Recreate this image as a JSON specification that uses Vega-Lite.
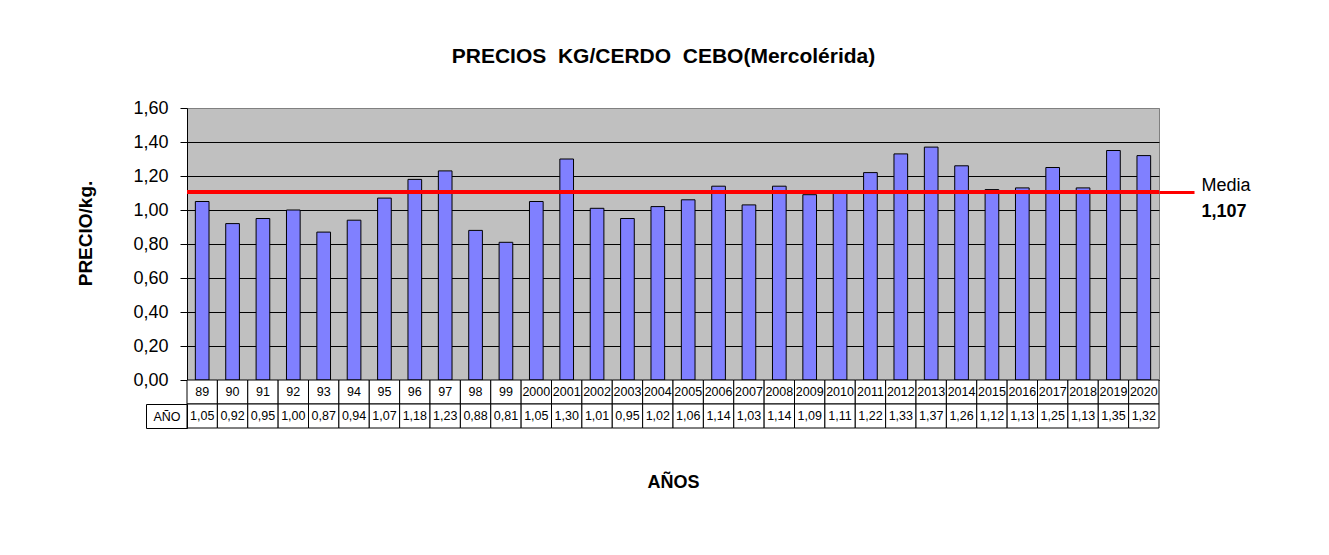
{
  "$schema": "https://vega.github.io/schema/vega-lite/v6.json",
  "background": "white",
  "padding": {"left": 76, "top": 45, "right": 10, "bottom": 10},
  "config": {
    "font": "Liberation Sans",
    "locale": {"number": {"decimal": ",", "thousands": ".", "grouping": [3], "currency": ["", " €"]}}
  },
  "title": {"text": "PRECIOS\u00a0 KG/CERDO\u00a0 CEBO(Mercolérida)", "fontSize": 21, "fontWeight": "bold", "color": "black", "offset": 32, "anchor": "middle"},
  "data": {"values": [
    {"anio": "89", "precio": 1.05},
    {"anio": "90", "precio": 0.92},
    {"anio": "91", "precio": 0.95},
    {"anio": "92", "precio": 1.00},
    {"anio": "93", "precio": 0.87},
    {"anio": "94", "precio": 0.94},
    {"anio": "95", "precio": 1.07},
    {"anio": "96", "precio": 1.18},
    {"anio": "97", "precio": 1.23},
    {"anio": "98", "precio": 0.88},
    {"anio": "99", "precio": 0.81},
    {"anio": "2000", "precio": 1.05},
    {"anio": "2001", "precio": 1.30},
    {"anio": "2002", "precio": 1.01},
    {"anio": "2003", "precio": 0.95},
    {"anio": "2004", "precio": 1.02},
    {"anio": "2005", "precio": 1.06},
    {"anio": "2006", "precio": 1.14},
    {"anio": "2007", "precio": 1.03},
    {"anio": "2008", "precio": 1.14},
    {"anio": "2009", "precio": 1.09},
    {"anio": "2010", "precio": 1.11},
    {"anio": "2011", "precio": 1.22},
    {"anio": "2012", "precio": 1.33},
    {"anio": "2013", "precio": 1.37},
    {"anio": "2014", "precio": 1.26},
    {"anio": "2015", "precio": 1.12},
    {"anio": "2016", "precio": 1.13},
    {"anio": "2017", "precio": 1.25},
    {"anio": "2018", "precio": 1.13},
    {"anio": "2019", "precio": 1.35},
    {"anio": "2020", "precio": 1.32}
  ]},
  "spacing": 0,
  "bounds": "flush",
  "vconcat": [
    {
      "width": 972,
      "height": 272,
      "view": {"fill": "#C0C0C0", "stroke": "#808080"},
      "layer": [
        {
          "mark": {"type": "bar", "fill": "#8080FF", "stroke": "black", "strokeWidth": 1},
          "encoding": {
            "x": {"field": "anio", "type": "ordinal", "sort": null,
              "scale": {"paddingInner": 0.55, "paddingOuter": 0.275},
              "axis": null},
            "y": {"field": "precio", "type": "quantitative",
              "scale": {"domain": [0, 1.6], "nice": false, "zero": true},
              "axis": {"title": "PRECIO/kg.", "titleFontSize": 19, "titleFontWeight": "bold", "titleColor": "black", "titlePadding": 37, "titleY": 125,
                "values": [0, 0.2, 0.4, 0.6, 0.8, 1.0, 1.2, 1.4, 1.6], "format": ".2f",
                "labelFontSize": 18, "labelColor": "black", "labelPadding": 12,
                "tickSize": 7, "tickColor": "black", "domainColor": "black",
                "grid": true, "gridColor": {"condition": {"test": "datum.value >= 1.59", "value": "#808080"}, "value": "black"}, "gridOpacity": 1}}
          }
        },
        {
          "mark": {"type": "rule", "color": "red", "strokeWidth": 3},
          "encoding": {
            "y": {"datum": 1.107, "type": "quantitative",
              "scale": {"domain": [0, 1.6], "nice": false},
              "axis": {"orient": "right", "values": [1.107], "labelExpr": "'Media'", "title": null, "domain": false, "grid": false,
                "ticks": true, "tickColor": "red", "tickWidth": 3, "tickSize": 35,
                "labelFontSize": 18, "labelColor": "black", "labelPadding": 7, "labelAlign": "left", "labelBaseline": "middle", "labelOffset": -6}}
          }
        },
        {
          "mark": {"type": "rule", "color": "red", "strokeOpacity": 0},
          "encoding": {
            "y": {"datum": 1.107, "type": "quantitative",
              "scale": {"domain": [0, 1.6], "nice": false},
              "axis": {"orient": "right", "values": [1.107], "format": ".3f", "title": null, "domain": false, "grid": false,
                "ticks": false, "labelFontSize": 18, "labelFontWeight": "bold", "labelColor": "black", "labelPadding": 42,
                "labelAlign": "left", "labelBaseline": "middle", "labelOffset": 20}}
          }
        }
      ],
      "resolve": {"axis": {"y": "independent"}}
    },
    {
      "width": 972,
      "height": 24,
      "view": {"stroke": null},
      "layer": [
        {
          "mark": {"type": "rect", "fill": "white", "stroke": "black", "strokeWidth": 1},
          "encoding": {
            "x": {"field": "anio", "type": "ordinal", "sort": null,
              "scale": {"paddingInner": 0, "paddingOuter": 0}, "axis": null},
            "y": {"datum": "fila", "type": "nominal",
              "scale": {"paddingInner": 0, "paddingOuter": 0}, "axis": null}
          }
        },
        {
          "mark": {"type": "text", "fontSize": 12.5, "color": "black"},
          "encoding": {
            "x": {"field": "anio", "type": "ordinal", "sort": null,
              "scale": {"paddingInner": 0, "paddingOuter": 0}, "axis": null},
            "y": {"datum": "fila", "type": "nominal",
              "scale": {"paddingInner": 0, "paddingOuter": 0}, "axis": null},
            "text": {"field": "anio", "type": "nominal"}
          }
        }
      ]
    },
    {
      "width": 972,
      "height": 24,
      "view": {"stroke": null},
      "layer": [
        {
          "mark": {"type": "rect", "fill": "white", "stroke": "black", "strokeWidth": 1},
          "encoding": {
            "x": {"field": "anio", "type": "ordinal", "sort": null,
              "scale": {"paddingInner": 0, "paddingOuter": 0},
              "axis": {"title": "AÑOS", "labels": false, "ticks": false, "domain": false,
                "titleFontSize": 18, "titleFontWeight": "bold", "titleColor": "black", "titlePadding": 45}},
            "y": {"datum": "AÑO", "type": "nominal",
              "scale": {"paddingInner": 0, "paddingOuter": 0},
              "axis": {"title": null, "tickBand": "extent", "tickSize": 41, "tickColor": "black", "domainColor": "black",
                "labelFontSize": 12.5, "labelColor": "black", "labelAlign": "center", "labelPadding": -20.5, "labelBaseline": "middle"}}
          }
        },
        {
          "mark": {"type": "text", "fontSize": 12.5, "color": "black"},
          "encoding": {
            "x": {"field": "anio", "type": "ordinal", "sort": null,
              "scale": {"paddingInner": 0, "paddingOuter": 0}},
            "y": {"datum": "AÑO", "type": "nominal",
              "scale": {"paddingInner": 0, "paddingOuter": 0},
              "axis": {"orient": "left", "offset": 41, "labels": false, "ticks": false, "domain": true, "domainColor": "black", "title": null}},
            "text": {"field": "precio", "type": "quantitative", "format": ".2f"}
          }
        }
      ],
      "resolve": {"axis": {"y": "independent"}}
    }
  ]
}
